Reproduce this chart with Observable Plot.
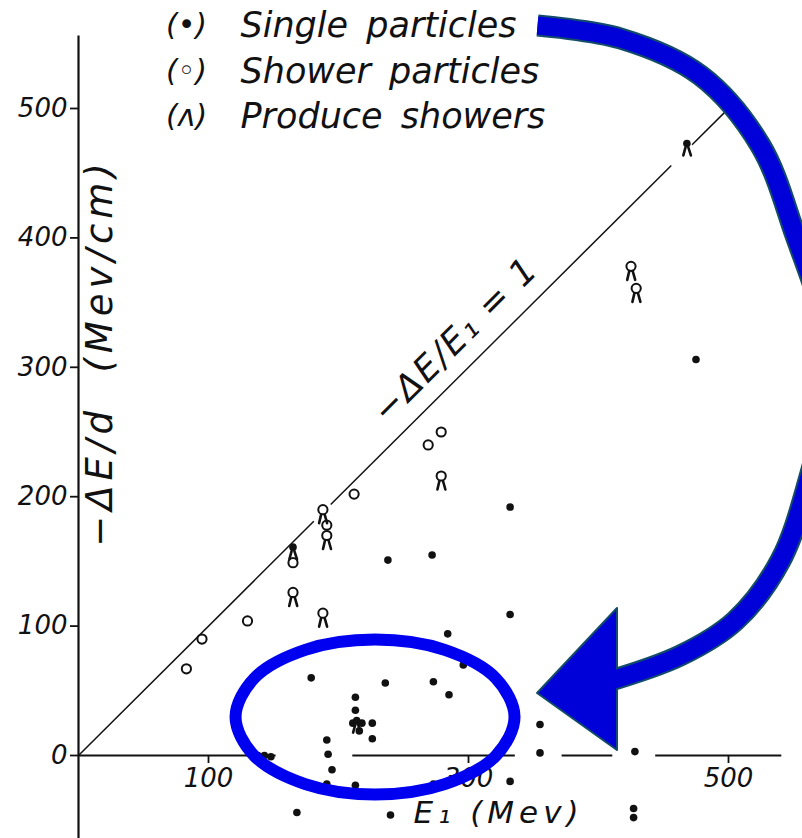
<!DOCTYPE html>
<html>
<head>
<meta charset="utf-8">
<script src="https://cdn.jsdelivr.net/npm/d3@7"></script>
<script src="https://cdn.jsdelivr.net/npm/@observablehq/plot@0.6"></script>
<style>
  html, body { margin: 0; padding: 0; background: #fff; }
  #chart { width: 802px; height: 838px; overflow: hidden; }
</style>
</head>
<body>
<div id="chart"></div>
<script>
// ---- data: [E1 (Mev), -dE/d (Mev/cm), produces shower?] ----
const singleParticles = [
  [468, 473, true], [475, 306, false], [332, 192, false], [272, 155, false],
  [238, 151, false], [165, 161, true], [332, 109, false], [284, 94, false],
  [296, 70, false], [273, 57, false], [285, 47, false], [236, 56, false],
  [179, 60, false], [213, 45, false], [213, 35, false], [211, 25, false],
  [214, 27, true], [218, 25, false], [216, 19, false], [226, 25, false],
  [226, 13, false], [191, 12, false], [192, 1, false], [195, -11, false],
  [191, -22, false], [213, -23, false], [273, -22, false], [168, -44, false],
  [240, -46, false], [332, -20, false], [355, 24, false], [355, 2, false],
  [428, 3, false], [427, -41, false], [427, -48, false],
  [138, 0, false], [143, 0, false], [148, -1, false]
];
const showerParticles = [
  [83, 67, false], [95, 90, false], [130, 104, false], [165, 149, false],
  [165, 126, true], [188, 110, true], [188, 190, true], [191, 178, false],
  [191, 170, true], [212, 202, false], [269, 240, false], [279, 250, false],
  [279, 216, true], [425, 378, true], [429, 361, true]
];
const yTicks = [0, 100, 200, 300, 400, 500];
const xTicks = [100, 300, 500];
const legendSymbols = ["(•)", "(◦)", "(ʌ)"];
const legendLabels = ["Single particles", "Shower particles", "Produce showers"];
const yLabel = "−ΔE/d  (Mev/cm)";
const xLabel = "E₁ (Mev)";
const lineLabel = "−ΔE/E₁ = 1";

// reference line  -ΔE/E1 = 1 (drawn in pieces, as in the figure)
const diagSegments = [[0, 181], [194, 456], [472, 503]];
// broken E1 axis line
const xAxisSegments = [[0, 152], [211, 336], [372, 411], [444, 541]];
const yAxisExtent = [-70, 556];
// placement of the line label (data units)
const lineLabelAt = [{x: 290, y: 321}];

// blue annotations (data units)
const ellipsePts = [
  [335.4, 29.8], [321.0, 59.7], [281.7, 81.6], [228.1, 89.6], [174.4, 81.6], [135.2, 59.7],
  [120.8, 29.8], [135.2, -0.2], [174.4, -22.1], [228.1, -30.1], [281.7, -22.1], [321.0, -0.2]
];
const arrowShaft = [
  [353.1, 564.1], [416.9, 554.1], [478.5, 525.5], [524.6, 471.4], [551.5, 401.9],
  [574.6, 328.4], [575.4, 274.3], [561.5, 212.5], [540.0, 150.7], [505.4, 104.3],
  [463.1, 77.3], [404.6, 56.4]
];
const arrowHead = [
  {x: 353.1, lo: 47.9, hi: 47.9},
  {x: 414.6, lo: 3.9, hi: 113.6}
];

// ---- styling ----
const INK = "#111";
const FONT = "DejaVu Sans";
const legsDot = {draw(c) { c.moveTo(-1.4, 4); c.lineTo(-3.6, 12); c.moveTo(1.4, 4); c.lineTo(4, 12); }};
const legsCircle = {draw(c) { c.moveTo(-1.8, 5); c.lineTo(-3.8, 13.5); c.moveTo(1.8, 5); c.lineTo(4.2, 13.5); }};

const L = 78; // frame left (y axis position)
const legendRowY = [25, 71, 116];

const marks = [
  // axes lines
  Plot.ruleX([0], {y1: yAxisExtent[0], y2: yAxisExtent[1], stroke: INK, strokeWidth: 2.2}),
  Plot.ruleY(xAxisSegments, {y: 0, x1: d => d[0], x2: d => d[1], stroke: INK, strokeWidth: 2}),
  Plot.axisY({ticks: yTicks, tickSize: 8, tickPadding: 3, label: null, fontSize: 26, fontStyle: "italic",
              stroke: INK, strokeWidth: 1.8, color: INK}),
  Plot.axisX({ticks: xTicks, tickSize: 8, tickPadding: 5, label: null, fontSize: 26, fontStyle: "italic",
              stroke: INK, strokeWidth: 1.8, color: INK}),
  // reference line
  Plot.link(diagSegments, {x1: d => d[0], y1: d => d[0], x2: d => d[1], y2: d => d[1], stroke: INK, strokeWidth: 1.5}),
  Plot.text(lineLabelAt, {x: "x", y: "y", text: () => lineLabel, rotate: -45, fontSize: 35, fontStyle: "italic",
              fill: INK, lineAnchor: "middle"}),
  // points
  Plot.dot(showerParticles, {x: d => d[0], y: d => d[1], r: 4.6, stroke: INK, strokeWidth: 2, fill: "#fff"}),
  Plot.dot(showerParticles.filter(d => d[2]), {x: d => d[0], y: d => d[1], symbol: legsCircle, stroke: INK,
              strokeWidth: 2.6, strokeLinecap: "round", fill: "none"}),
  Plot.dot(singleParticles, {x: d => d[0], y: d => d[1], r: 3.8, fill: INK, stroke: "none"}),
  Plot.dot(singleParticles.filter(d => d[2]), {x: d => d[0], y: d => d[1], symbol: legsDot, stroke: INK,
              strokeWidth: 2.6, strokeLinecap: "round", fill: "none"}),
  // axis titles
  Plot.text([yLabel], {frameAnchor: "top-left", dx: 100 - L, dy: 352, rotate: -90, text: d => d, fontSize: 37,
              fontStyle: "italic", textAnchor: "middle", lineAnchor: "middle", fill: INK}),
  Plot.text([xLabel], {frameAnchor: "top-left", dx: 498 - L, dy: 813, text: d => d, fontSize: 31,
              fontStyle: "italic", textAnchor: "middle", lineAnchor: "middle", fill: INK}),
  // legend
  ...legendSymbols.map((s, i) => Plot.text([s], {frameAnchor: "top-left", dx: 186 - L, dy: legendRowY[i], text: d => d,
              fontSize: 30, fontStyle: "italic", textAnchor: "middle", lineAnchor: "middle", fill: INK})),
  ...legendLabels.map((s, i) => Plot.text([s], {frameAnchor: "top-left", dx: 240 - L, dy: legendRowY[i], text: d => d,
              fontSize: 35, fontStyle: "italic", textAnchor: "start", lineAnchor: "middle", fill: INK})),
  // blue annotations
  Plot.line(arrowShaft, {x: d => d[0], y: d => d[1], curve: "catmull-rom", stroke: "#124c6a", strokeWidth: 22, strokeLinecap: "butt"}),
  Plot.areaY(arrowHead, {x: "x", y1: "lo", y2: "hi", fill: "#0000d8", stroke: "#124c6a", strokeWidth: 2}),
  Plot.line(arrowShaft, {x: d => d[0], y: d => d[1], curve: "catmull-rom", stroke: "#0000d8", strokeWidth: 18, strokeLinecap: "butt"}),
  Plot.line(ellipsePts, {x: d => d[0], y: d => d[1], curve: "catmull-rom-closed", stroke: "#0000f0", strokeWidth: 12})
];

const chart = Plot.plot({
  width: 802,
  height: 838,
  marginLeft: L,
  marginBottom: 838 - 755,
  marginTop: 0,
  marginRight: 0,
  x: {domain: [0, 500], range: [78, 728]},
  y: {domain: [0, 500], range: [755, 108]},
  style: {fontFamily: FONT, background: "#fff", color: INK, overflow: "hidden"},
  marks
});

// hand-lettered spacing of the titles
const spacing = new Map([[yLabel, "5px"], [xLabel, "5px"], [lineLabel, "2px"]]);
d3.select(chart).selectAll("text").each(function () {
  const t = this.textContent;
  if (spacing.has(t)) this.style.letterSpacing = spacing.get(t);
  if (legendLabels.includes(t)) this.style.wordSpacing = "7px";
});
document.getElementById("chart").appendChild(chart);
</script>
</body>
</html>
